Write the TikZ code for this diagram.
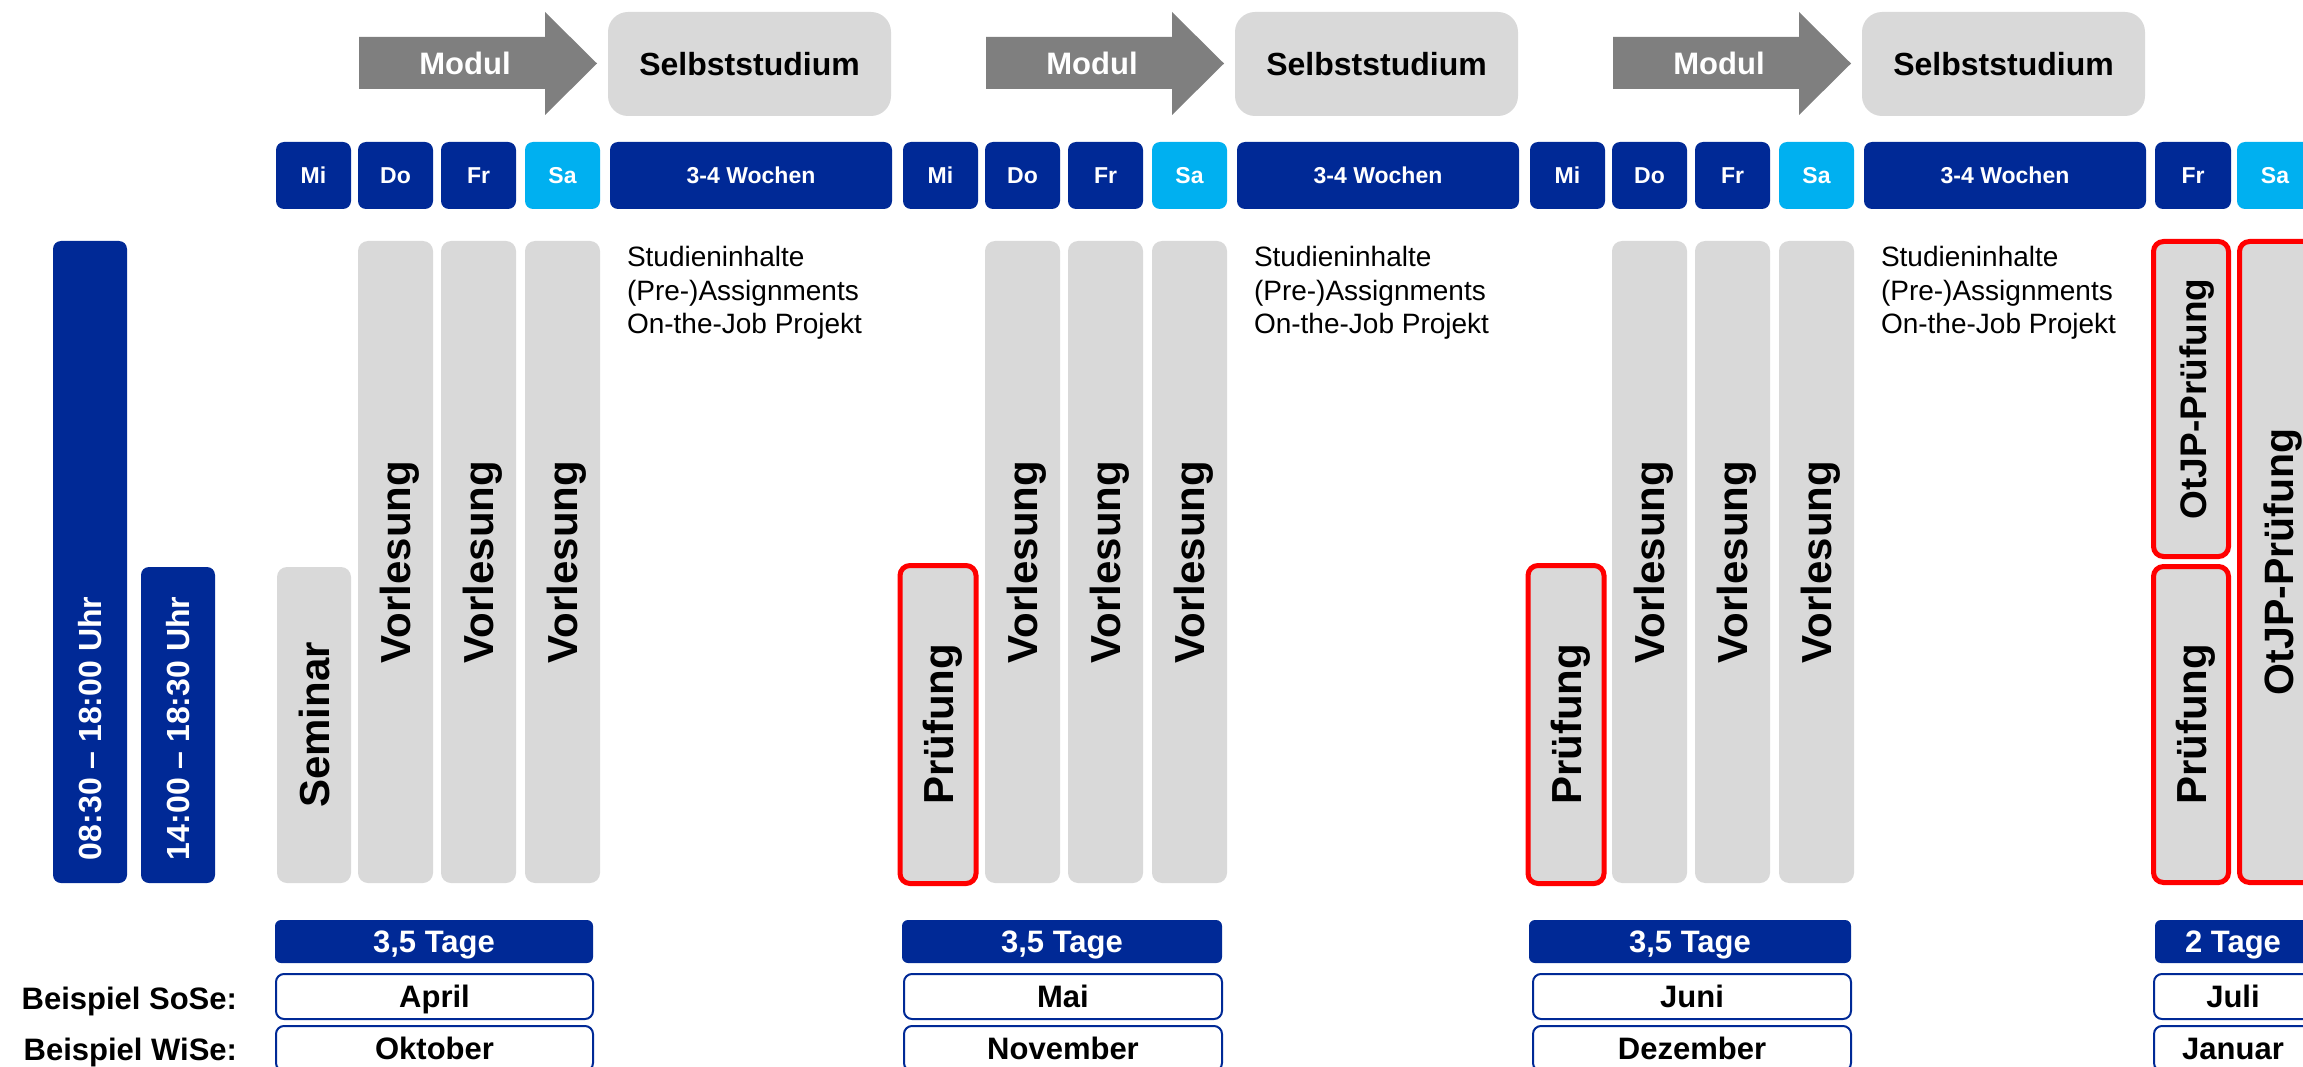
\documentclass[tikz,border=0pt]{standalone}
\usepackage{fontspec}
\setmainfont{Liberation Sans}
\definecolor{dblue}{RGB}{0,41,150}
\definecolor{lblue}{RGB}{0,176,240}
\definecolor{lgray}{RGB}{217,217,217}
\definecolor{agray}{RGB}{127,127,127}
\definecolor{pred}{RGB}{255,0,0}
\newcommand\mybox[7]{%
  \pgfmathsetmacro\mycx{(#3+#5)/2}%
  \pgfmathsetmacro\mycy{(#4+#6)/2}%
  \pgfmathsetmacro\myw{#5-(#3)}%
  \pgfmathsetmacro\myh{#6-(#4)}%
  \node[#2, minimum width=\myw pt, minimum height=\myh pt] (#1) at (\mycx,\mycy) {#7};}
\newcommand\myvbar[7]{%
  \pgfmathsetmacro\mycx{(#3+#5)/2}%
  \pgfmathsetmacro\mycy{(#4+#6)/2}%
  \pgfmathsetmacro\myw{#5-(#3)}%
  \pgfmathsetmacro\myh{#6-(#4)}%
  \node[#2, rotate=90, minimum width=\myh pt, minimum height=\myw pt] (#1) at (\mycx,\mycy) {#7};}
\begin{document}
\begin{tikzpicture}[x=1pt,y=-1pt,
  every node/.style={inner sep=0pt, outer sep=0pt},
  fb/.style={font=\bfseries\fontsize{#1}{#1}\selectfont},
  daybox/.style={fill=dblue, rounded corners=8pt, text=white, fb=23, text height=16.5pt, text depth=0pt},
  saday/.style={daybox, fill=lblue},
  selbst/.style={fill=lgray, rounded corners=20pt, fb=32, text height=23pt, text depth=0pt},
  graybar/.style={fill=lgray, rounded corners=10pt, fb=42, text height=30pt, text depth=0pt},
  redbar/.style={graybar, draw=pred, line width=5pt},
  timebar/.style={fill=dblue, rounded corners=8pt},
  timetxt/.style={text=white, fb=32, text height=23pt, text depth=0pt},
  tage/.style={fill=dblue, rounded corners=6pt, text=white, fb=31, text height=22.3pt, text depth=0pt},
  month/.style={draw=dblue, line width=2pt, fill=white, rounded corners=8pt, fb=31, text height=22.3pt, text depth=0pt},
  modtxt/.style={text=white, fb=31, text height=22.3pt, text depth=0pt},
  beisp/.style={fb=31, anchor=base east},
  info/.style={font=\fontsize{28}{33.5}\selectfont, align=left, anchor=north west}
]
\useasboundingbox (0,0) rectangle (2303,1067);
\clip (0,0) rectangle (2303,1067);

% three module groups
\foreach \g/\dx in {1/0,2/627,3/1254}{
  \fill[agray] (359+\dx,37) -- (545+\dx,37) -- (545+\dx,12) -- (597+\dx,63.5)
     -- (545+\dx,115) -- (545+\dx,89) -- (359+\dx,89) -- cycle;
  \node[modtxt] (mod\g) at (465+\dx,63) {Modul};
  \mybox{selbst\g}{selbst}{608+\dx}{12}{891+\dx}{116}{Selbststudium}
  \mybox{mi\g}{daybox}{276+\dx}{142}{351+\dx}{209}{Mi}
  \mybox{do\g}{daybox}{358+\dx}{142}{433+\dx}{209}{Do}
  \mybox{fr\g}{daybox}{441+\dx}{142}{516+\dx}{209}{Fr}
  \mybox{sa\g}{saday}{525+\dx}{142}{600+\dx}{209}{Sa}
  \mybox{wo\g}{daybox}{610+\dx}{142}{892+\dx}{209}{3-4 Wochen}
  \myvbar{vdo\g}{graybar}{358+\dx}{241}{433+\dx}{883}{Vorlesung}
  \myvbar{vfr\g}{graybar}{441+\dx}{241}{516+\dx}{883}{Vorlesung}
  \myvbar{vsa\g}{graybar}{525+\dx}{241}{600+\dx}{883}{Vorlesung}
  \node[info] (info\g) at (627+\dx,246.6) {Studieninhalte\\(Pre-)Assignments\\On-the-Job Projekt};
}

% time bars
\mybox{tb1}{timebar}{53}{241}{127}{883}{}
\mybox{tb2}{timebar}{141}{567}{215}{883}{}
\node[timetxt, rotate=90, anchor=west] (tt1) at (90,860) {08:30 – 18:00 Uhr};
\node[timetxt, rotate=90, anchor=west] (tt2) at (178,860) {14:00 – 18:30 Uhr};

% first column items
\myvbar{sem}{graybar}{277}{567}{351}{883}{Seminar}
\myvbar{pr2}{redbar}{900}{565.5}{976}{883.5}{Prüfung}
\myvbar{pr3}{redbar}{1528}{565.5}{1604}{883.5}{Prüfung}

% last group
\mybox{fr4}{daybox}{2155}{142}{2231}{209}{Fr}
\mybox{sa4}{saday}{2237}{142}{2313}{209}{Sa}
\myvbar{otjp4}{redbar, fb=37}{2153.5}{241.5}{2228.5}{556.5}{OtJP-Prüfung}
\myvbar{pr4}{redbar}{2153.5}{566.5}{2228.5}{882.5}{Prüfung}
\myvbar{otjpl}{redbar, fb=41}{2239.5}{241.5}{2316.5}{882.5}{OtJP-Prüfung}

% bottom boxes
\mybox{tage1}{tage}{275}{920}{593}{963}{3,5 Tage}
\mybox{tage2}{tage}{902}{920}{1222}{963}{3,5 Tage}
\mybox{tage3}{tage}{1529}{920}{1851}{963}{3,5 Tage}
\mybox{tage4}{tage}{2155}{920}{2311}{963}{2 Tage}
\mybox{so1}{month}{276}{974}{593}{1019}{April}
\mybox{so2}{month}{904}{974}{1222}{1019}{Mai}
\mybox{so3}{month}{1533}{974}{1851}{1019}{Juni}
\mybox{so4}{month}{2154}{974}{2312}{1019}{Juli}
\mybox{wi1}{month}{276}{1026}{593}{1071}{Oktober}
\mybox{wi2}{month}{904}{1026}{1222}{1071}{November}
\mybox{wi3}{month}{1533}{1026}{1851}{1071}{Dezember}
\mybox{wi4}{month}{2154}{1026}{2312}{1071}{Januar}
\node[beisp] (bso) at (237,1009) {Beispiel SoSe:};
\node[beisp] (bwi) at (237,1060) {Beispiel WiSe:};
\end{tikzpicture}
\end{document}
